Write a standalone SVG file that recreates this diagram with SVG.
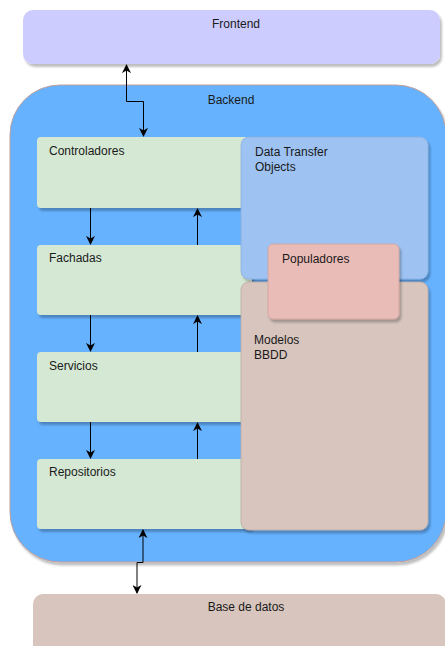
<svg xmlns="http://www.w3.org/2000/svg" width="445" height="646" viewBox="0 0 445 646">
  <defs>
    <filter id="shadow" x="-10%" y="-10%" width="130%" height="130%">
      <feDropShadow dx="2" dy="3" stdDeviation="1" flood-color="#000" flood-opacity="0.25"/>
    </filter>
    <marker id="arrow" viewBox="0 0 10 10" refX="9" refY="5" markerWidth="9" markerHeight="9" markerUnits="userSpaceOnUse" orient="auto-start-reverse">
      <path d="M0,0 L10,5 L0,10 L3,5 z" fill="#000"/>
    </marker>
  </defs>
  <style>
    text { font-family: "Liberation Sans", Arial, sans-serif; font-size: 12px; fill: #1a1a1a; }
    .mid { text-anchor: middle; }
    .box { filter: url(#shadow); }
    .layer { fill: #D5E8D4; }
    .conn { fill: none; stroke: #000; stroke-width: 1; marker-end: url(#arrow); }
    .conn2 { fill: none; stroke: #000; stroke-width: 1; marker-start: url(#arrow); marker-end: url(#arrow); }
  </style>

  <rect width="445" height="646" fill="#fff"/>

  <g id="frontend">
    <rect class="box" x="23" y="10" width="417" height="54" rx="10" fill="#CCCCFF"/>
    <text class="mid" x="236" y="28">Frontend</text>
  </g>

  <g id="backend">
    <rect class="box" x="10" y="85" width="436" height="477" rx="50" fill="#66B2FF" stroke="#C0A09A" stroke-width="1"/>
    <text class="mid" x="231" y="104">Backend</text>
  </g>

  <g id="controladores">
    <rect class="box layer" x="37" y="137" width="215" height="71" rx="4"/>
    <text x="49" y="155">Controladores</text>
  </g>

  <g id="fachadas">
    <rect class="box layer" x="37" y="245" width="215" height="70" rx="4"/>
    <text x="49" y="262">Fachadas</text>
  </g>

  <g id="servicios">
    <rect class="box layer" x="37" y="352" width="215" height="70" rx="4"/>
    <text x="49" y="370">Servicios</text>
  </g>

  <g id="repositorios">
    <rect class="box layer" x="37" y="459" width="215" height="70" rx="4"/>
    <text x="49" y="476">Repositorios</text>
  </g>

  <g id="dto">
    <rect class="box" x="241" y="137" width="187" height="142" rx="8" fill="#9EC3F3" stroke="#8AAEDC" stroke-width="0.8"/>
    <text x="255" y="156">Data Transfer</text>
    <text x="255" y="171">Objects</text>
  </g>

  <g id="modelos">
    <rect class="box" x="241" y="282" width="187" height="248" rx="8" fill="#D7C5BE" stroke="#BFAAA3" stroke-width="0.8"/>
    <text x="254" y="344">Modelos</text>
    <text x="254" y="359">BBDD</text>
  </g>

  <g id="populadores">
    <rect class="box" x="268" y="244" width="131" height="75" rx="5" fill="#EABCB8" stroke="#CFA19D" stroke-width="0.8"/>
    <text x="282" y="263">Populadores</text>
  </g>

  <g id="base-datos">
    <rect class="box" x="33" y="594" width="413" height="70" rx="10" fill="#D7C5BE"/>
    <text class="mid" x="246" y="611">Base de datos</text>
  </g>

  <g id="connectors">
    <!-- frontend <-> controladores -->
    <path class="conn2" d="M126.5,65 V101.5 H143.5 V136"/>
    <!-- downward calls -->
    <path class="conn" d="M90.5,208 V244"/>
    <path class="conn" d="M90.5,315 V351"/>
    <path class="conn" d="M90.5,422 V458"/>
    <!-- upward returns -->
    <path class="conn" d="M197.5,245 V209"/>
    <path class="conn" d="M197.5,352 V316"/>
    <path class="conn" d="M197.5,459 V423"/>
    <!-- repositorios <-> base de datos -->
    <path class="conn2" d="M143,530 V562.5 H137 V593"/>
  </g>
</svg>
